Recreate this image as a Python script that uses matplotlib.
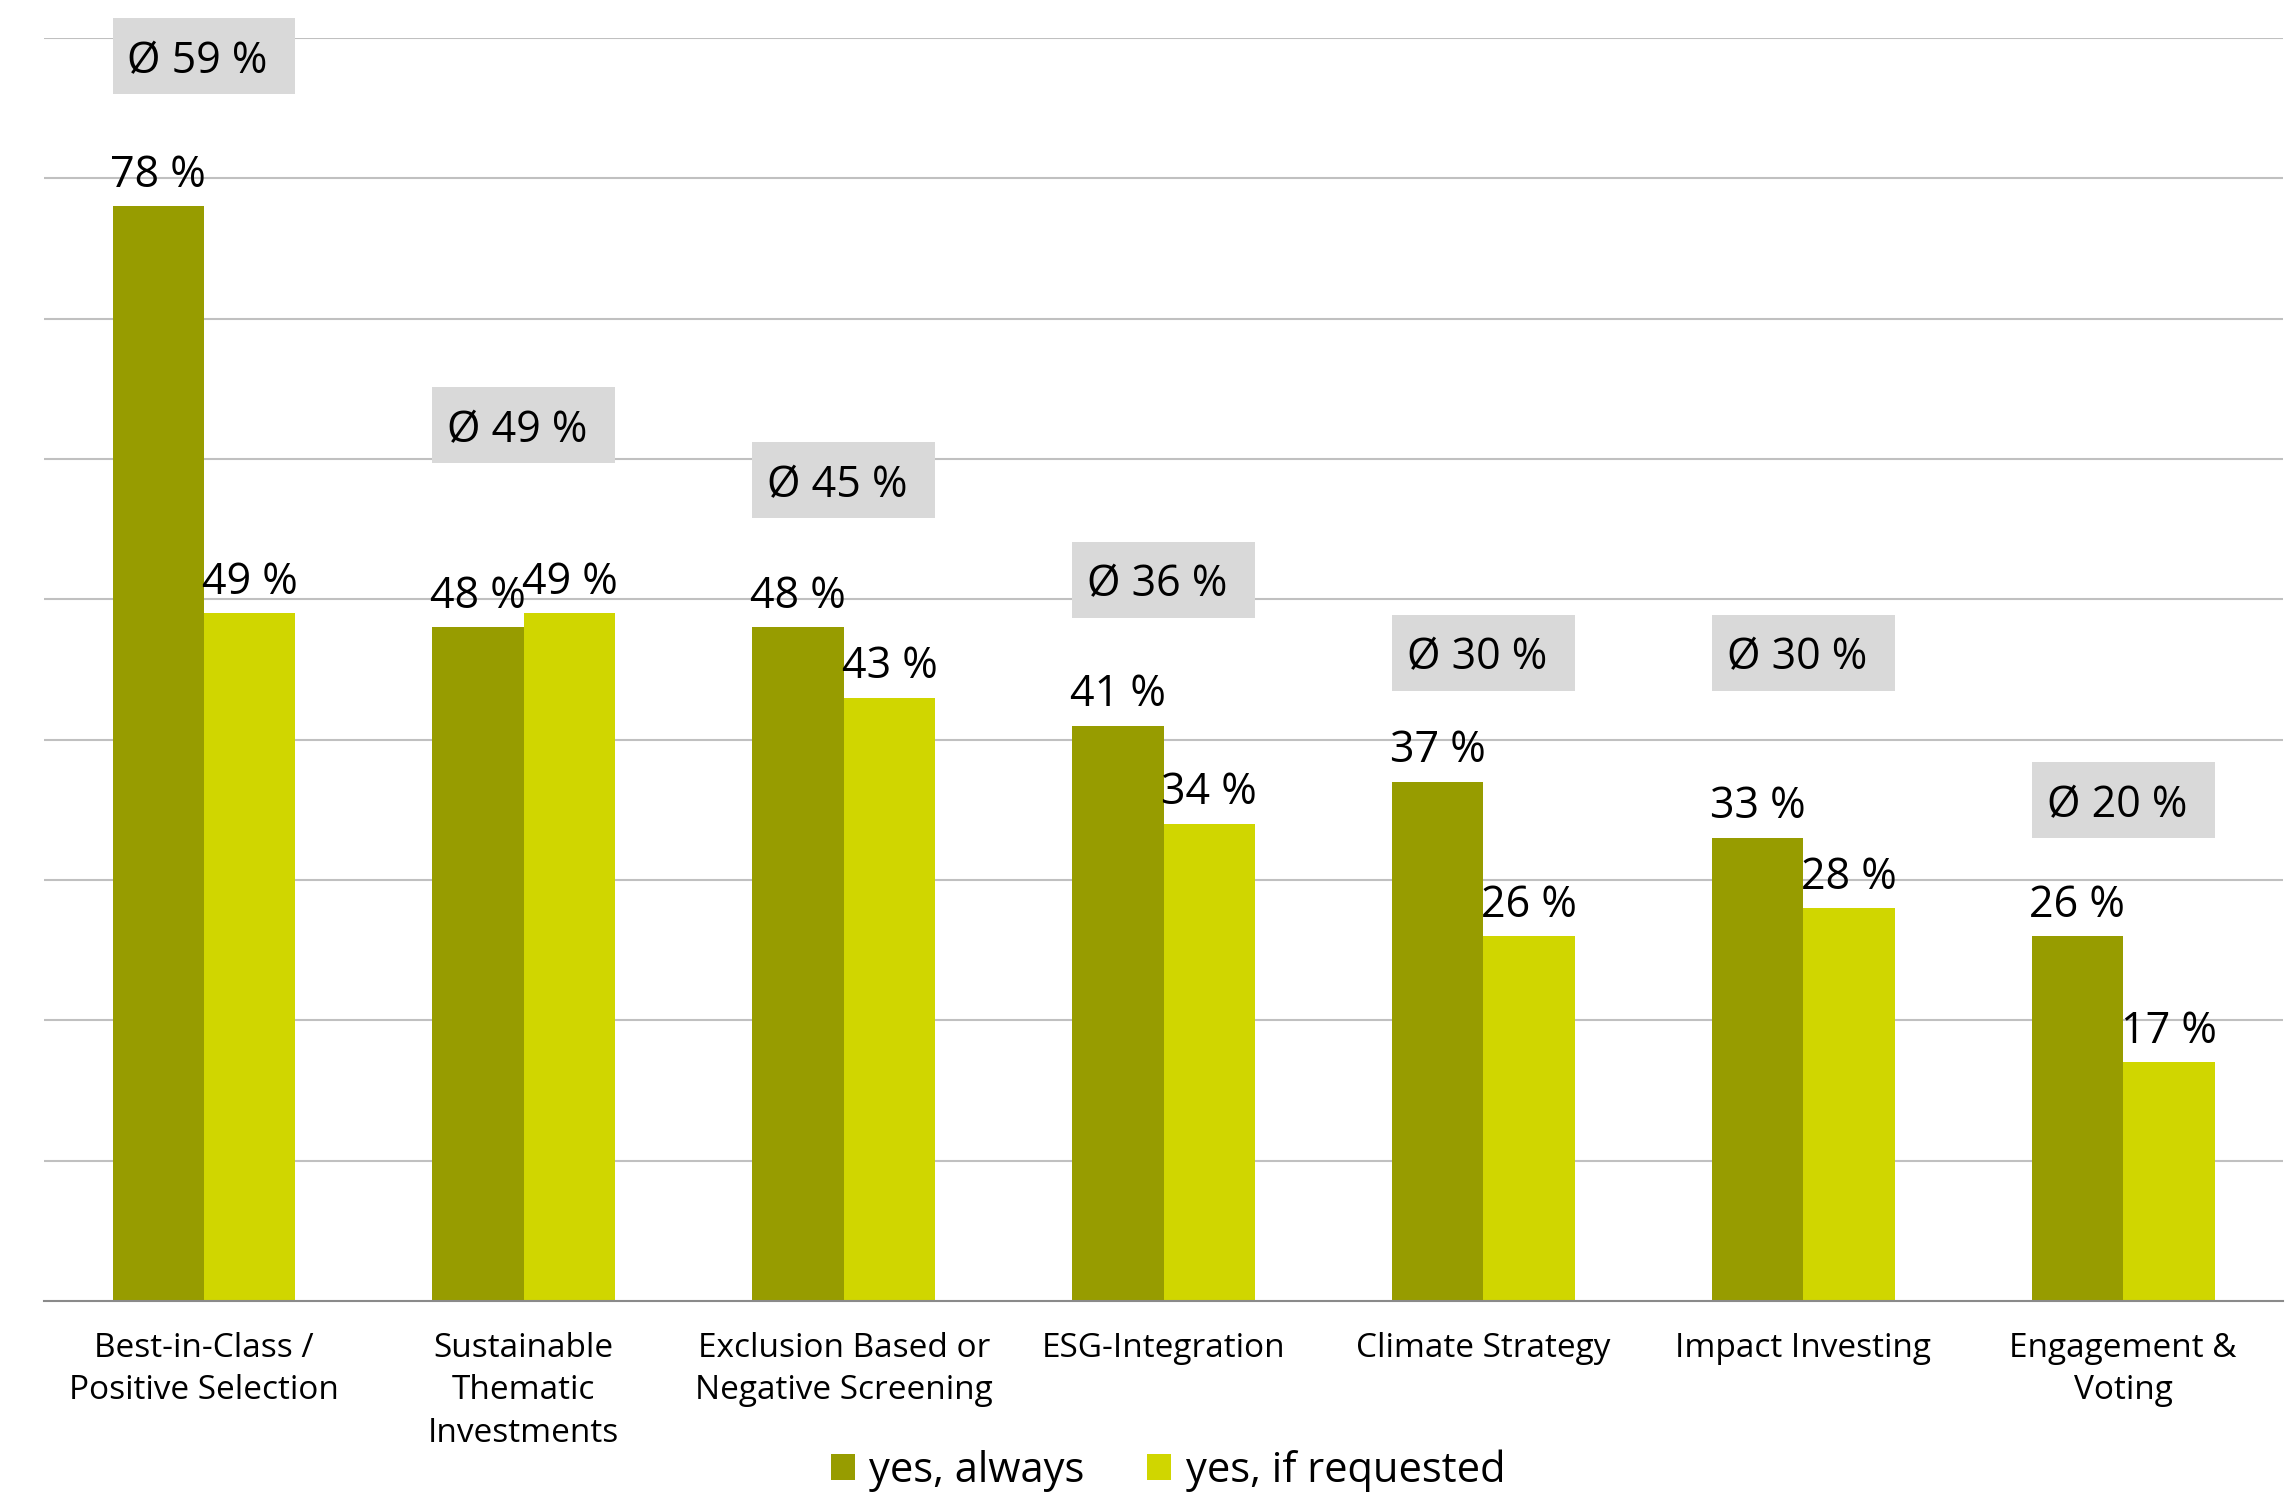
import numpy as np
from matplotlib import pyplot as plt
from matplotlib.patches import Rectangle, Patch

plt.rcParams['font.family'] = ['Open Sans', 'DejaVu Sans']

# survey shares per ESG strategy
categories = [
    "Best-in-Class /\nPositive Selection",
    "Sustainable\nThematic\nInvestments",
    "Exclusion Based or\nNegative Screening",
    "ESG-Integration",
    "Climate Strategy",
    "Impact Investing",
    "Engagement &\nVoting",
]
always = [78, 48, 48, 41, 37, 33, 26]
requested = [49, 49, 43, 34, 26, 28, 17]
average = [59, 49, 45, 36, 30, 30, 20]

# vertical centre of each average badge, in axis units
badge_y = [88.7, 62.4, 58.5, 51.4, 46.2, 46.2, 35.7]

DARK = '#979c00'
LIGHT = '#d0d600'
GRID = '#c0c0c0'
BOX = '#d9d9d9'

fig = plt.figure(figsize=(22.95, 14.93), dpi=100)
ax = fig.add_axes([0.0192, 0.1286, 0.9756, 0.8459])

x = np.arange(len(categories))
w = 0.286

ax.bar(x - w / 2, always, w, color=DARK, zorder=2, label='yes, always')
ax.bar(x + w / 2, requested, w, color=LIGHT, zorder=2, label='yes, if requested')

for xi, v in zip(x - w / 2, always):
    ax.annotate(f"{v} %", (xi, v), xytext=(0, 14), textcoords='offset points',
                ha='center', va='baseline', fontsize=31, zorder=4)
for xi, v in zip(x + w / 2, requested):
    ax.annotate(f"{v} %", (xi, v), xytext=(0, 14), textcoords='offset points',
                ha='center', va='baseline', fontsize=31, zorder=4)

# grey badges with the average of both answers
box_h = 5.4
for xi, yc, avg in zip(x, badge_y, average):
    ax.add_patch(Rectangle((xi - w, yc - box_h / 2), 2 * w, box_h, facecolor=BOX,
                           edgecolor='none', zorder=3, clip_on=False))
    ax.text(xi - 0.02, yc, f"Ø {avg} %", ha='center', va='center_baseline',
            fontsize=31, zorder=4)

ax.set_xlim(-0.5, len(categories) - 0.5)
ax.set_ylim(0, 90)
ax.set_yticks(np.arange(10, 100, 10))
ax.yaxis.grid(True, color=GRID, linewidth=1.5, zorder=0)
ax.tick_params(axis='y', left=False, labelleft=False)
ax.set_xticks(x)
ax.set_xticklabels(categories, fontsize=24, linespacing=1.38)
ax.tick_params(axis='x', length=0, pad=22)

for side in ['top', 'left', 'right']:
    ax.spines[side].set_visible(False)
ax.spines['bottom'].set_color('#8a8a8a')
ax.spines['bottom'].set_linewidth(1.5)
ax.spines['bottom'].set_zorder(3)

handles = [Patch(facecolor=DARK, label='yes, always'),
           Patch(facecolor=LIGHT, label='yes, if requested')]
fig.legend(handles=handles, loc='center', bbox_to_anchor=(0.509, 0.015), ncol=2,
           frameon=False, fontsize=30, handlelength=0.58, handleheight=0.58,
           handletextpad=0.35, columnspacing=1.5)

fig.savefig('out.png', dpi=100)
